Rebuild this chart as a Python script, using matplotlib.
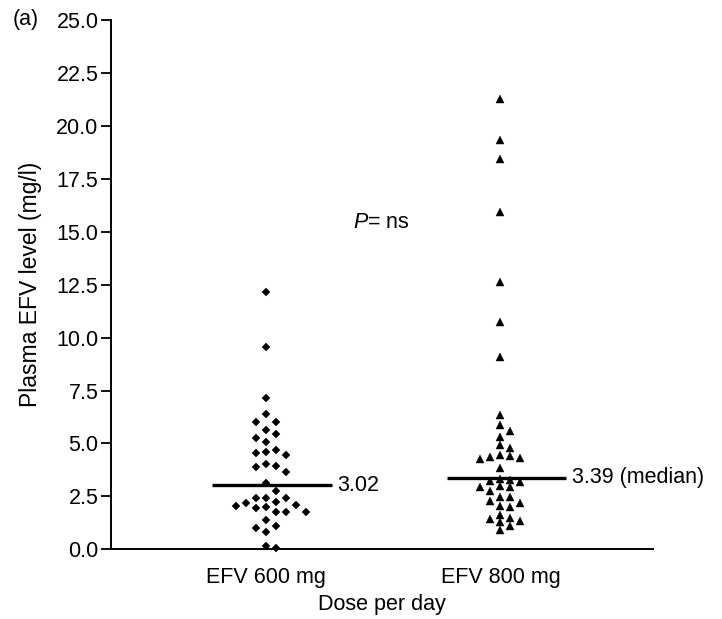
import numpy as np
import matplotlib
matplotlib.use("Agg")
import matplotlib.pyplot as plt

plt.rcParams['font.family'] = ['Liberation Sans', 'DejaVu Sans']
plt.rcParams['mathtext.fontset'] = 'custom'
plt.rcParams['mathtext.rm'] = 'Liberation Sans'
plt.rcParams['mathtext.it'] = 'Liberation Sans:italic'

# data (mg/l)
groups = ["EFV 600 mg", "EFV 800 mg"]
efv_600 = [12.14, 9.57, 7.13, 6.38, 6.00, 6.00, 5.64, 5.43, 5.24, 5.08,
           4.69, 4.61, 4.53, 4.45, 4.02, 3.93, 3.90, 3.67, 3.12, 2.77,
           2.44, 2.22, 2.09, 2.01, 1.94, 2.05, 2.17, 2.41, 2.44, 1.78,
           1.78, 1.78, 1.38, 0.99, 1.10, 0.83, 0.05, 0.15]
efv_800 = [21.26, 19.33, 18.44, 15.92, 12.64, 10.73, 9.07, 6.34, 5.87, 5.60,
           5.29, 4.93, 4.80, 4.45, 4.30, 4.37, 4.41, 4.25, 3.83, 3.31,
           3.27, 3.23, 3.19, 2.99, 2.93, 2.93, 2.77, 2.49, 2.46, 2.28,
           2.20, 2.05, 2.01, 1.62, 1.46, 1.43, 1.35, 1.30, 1.10, 0.91]
medians = [3.02, 3.39]
median_labels = ["3.02", "3.39 (median)"]
y_ticks = [0.0, 2.5, 5.0, 7.5, 10.0, 12.5, 15.0, 17.5, 20.0, 22.5, 25.0]
markers = ["D", "^"]
marker_sizes = [4.2, 6.0]
swarm_gaps = [9, 6.5]

FS = 15.5


def swarm_x(ax, x0, values, col_px=10, gap_px=9):
    """Put points in columns (Prism style) so that they do not overlap."""
    values = np.asarray(values, dtype=float)
    trans = ax.transData
    pts = trans.transform(np.column_stack([np.full(len(values), x0), values]))
    seq = [0]
    for n in range(1, 30):
        seq += [n, -n]
    placed = {}
    cols = np.zeros(len(values))
    for i in np.argsort(values)[::-1]:
        y = pts[i, 1]
        for c in seq:
            if all(abs(y - yy) >= gap_px for yy in placed.get(c, [])):
                break
        placed.setdefault(c, []).append(y)
        cols[i] = c
    xs = pts[:, 0] + cols * col_px
    return trans.inverted().transform(np.column_stack([xs, pts[:, 1]]))[:, 0]


fig = plt.figure(figsize=(7.22, 6.19), dpi=100)
ax = fig.add_axes([111 / 722, 1 - 549.3 / 619, (653 - 111) / 722, (549.3 - 20) / 619])
ax.set_xlim(-0.66, 1.65)
ax.set_ylim(0, 25)

for i, vals in enumerate([efv_600, efv_800]):
    xs = swarm_x(ax, i, vals, gap_px=swarm_gaps[i])
    ax.plot(xs, vals, linestyle="none", marker=markers[i], ms=marker_sizes[i],
            color="black", mec="black", mew=0.3, clip_on=False, zorder=3)
    ax.plot([i - 0.23, i + 0.28], [medians[i], medians[i]], color="black",
            lw=2.4, solid_capstyle="butt", zorder=4)
    ax.annotate(median_labels[i], xy=(i + 0.28, medians[i]), xytext=(4, 0),
                textcoords="offset points", ha="left", va="center", fontsize=FS)

ax.text(0.37, 15.45, r"$P$= ns", ha="left", va="center", fontsize=FS)

ax.spines["top"].set_visible(False)
ax.spines["right"].set_visible(False)
ax.spines["left"].set_linewidth(1.4)
ax.spines["bottom"].set_linewidth(1.4)

ax.set_yticks(y_ticks)
ax.set_yticklabels([f"{t:.1f}" for t in y_ticks], fontsize=FS)
ax.tick_params(axis="y", length=7, width=1.3, pad=2, direction="out")
ax.set_xticks([0, 1])
ax.set_xticklabels(groups, fontsize=FS)
ax.tick_params(axis="x", length=0, pad=13)

ax.set_xlabel("Dose per day", fontsize=FS, labelpad=4)
ax.set_ylabel("Plasma EFV level (mg/l)", fontsize=16.5, labelpad=10)

fig.text(13 / 722, 1 - 20 / 619, "(a)", ha="left", va="center", fontsize=FS)

fig.savefig("out.png", dpi=100)
